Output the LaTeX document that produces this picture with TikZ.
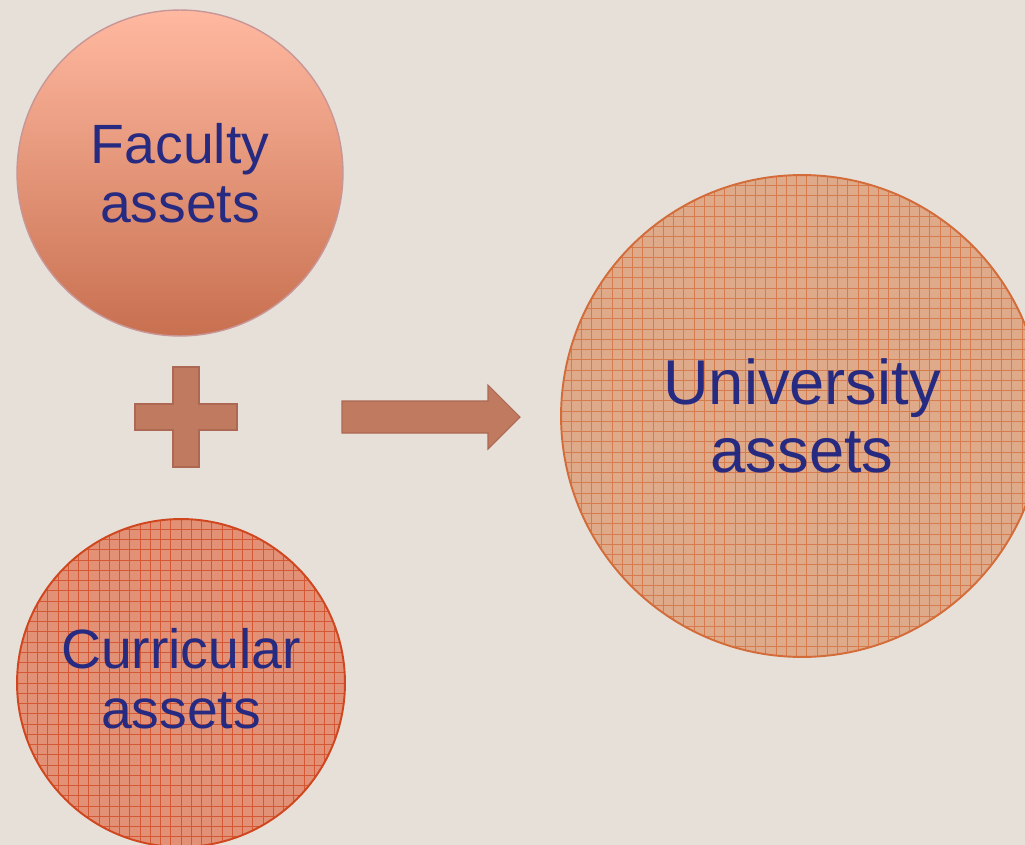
\documentclass[tikz,border=0pt]{standalone}
\usepackage{fontspec}
\setmainfont{Liberation Sans}
\definecolor{slidebg}{RGB}{231,224,217}
\definecolor{inkblue}{RGB}{38,42,128}
\definecolor{facultytop}{RGB}{255,185,160}
\definecolor{facultybot}{RGB}{200,112,80}
\definecolor{facultyrim}{RGB}{200,150,150}
\definecolor{currfill}{RGB}{226,144,118}
\definecolor{currline}{RGB}{208,70,30}
\definecolor{unifill}{RGB}{222,170,138}
\definecolor{uniline}{RGB}{212,108,58}
\definecolor{signfill}{RGB}{192,122,96}
\definecolor{signrim}{RGB}{172,104,82}
\begin{document}
\begin{tikzpicture}[x=0.02cm,y=-0.02cm,
    asset/.style={circle,inner sep=0pt,text=inkblue,align=center},
    gridded/.style={fill=#1fill,draw=#1line,line width=1.1pt,
      path picture={\draw[#1line,line width=0.4pt,opacity=0.75]
        (path picture bounding box.south west) grid[step=0.205cm]
        (path picture bounding box.north east);}},
    sign/.style={fill=signfill,draw=signrim,line width=0.6pt}]
  \fill[slidebg] (0,0) rectangle (1025,845);
  \useasboundingbox (0,0) rectangle (1025,845);
  % source circles
  \node[asset,minimum size=6.52cm,top color=facultytop,bottom color=facultybot,
    draw=facultyrim,line width=0.8pt,font=\fontsize{31.5}{33.5}\selectfont]
    (fac) at (180,173) {Faculty\\assets};
  \node[asset,minimum size=6.56cm,gridded=curr] (cur) at (181,683) {};
  \node[text=inkblue,align=center,inner sep=0pt,font=\fontsize{31.5}{34}\selectfont]
    (curlabel) at ([yshift=0.09cm]cur.center) {Curricular\\assets};
  % result circle
  \node[asset,minimum size=9.64cm,gridded=uni,font=\fontsize{36}{38.6}\selectfont]
    (uni) at (802,416) {University\\assets};
  % plus and arrow
  \draw[sign] (173,367) -- (199,367) -- (199,404) -- (237,404) -- (237,430)
    -- (199,430) -- (199,467) -- (173,467) -- (173,430) -- (135,430)
    -- (135,404) -- (173,404) -- cycle;
  \draw[sign] (342,401) -- (488,401) -- (488,385) -- (520,417) -- (488,449)
    -- (488,433) -- (342,433) -- cycle;
\end{tikzpicture}
\end{document}
